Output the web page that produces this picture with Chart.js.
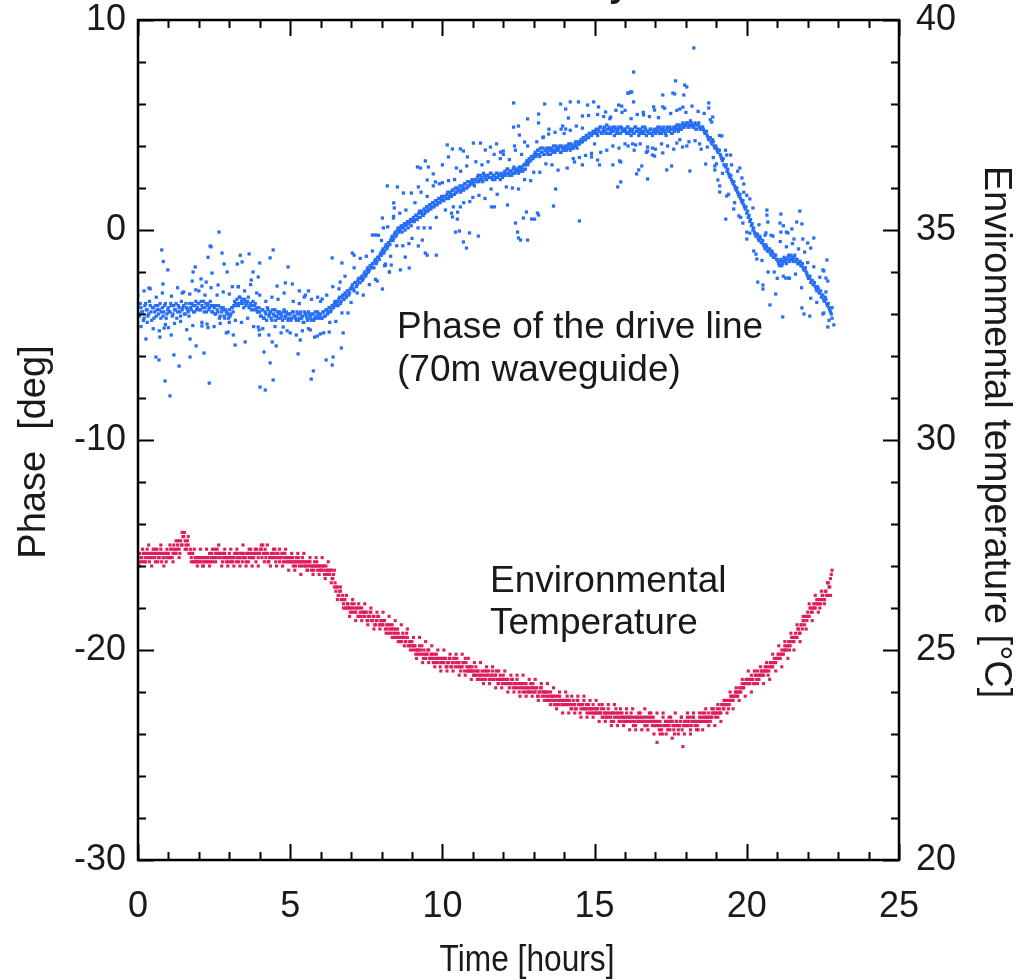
<!DOCTYPE html>
<html>
<head>
<meta charset="utf-8">
<script src="https://cdn.jsdelivr.net/npm/chart.js@4.4.1/dist/chart.umd.min.js"></script>
<style>
  html, body { margin: 0; padding: 0; background: #fff; }
  #wrap { width: 1016px; height: 980px; }
</style>
</head>
<body>
<div id="wrap"><canvas id="chartFase" width="1016" height="980"></canvas></div>
<script>
// tick labels
const horasTicks = [0, 5, 10, 15, 20, 25];
const faseTicks = [-30, -20, -10, 0, 10];
const tempTicks = [20, 25, 30, 35, 40];

// sampling of the recorded series [hours]
const passoHoras = 0.05;      // dense sets
const atrasoSerie2 = 0.025;   // second dense set sits half a step later
const passoDisperso = 0.1;    // loose readings around each band

// phase of the drive line [deg], one value per sample from t = 0
const faseBanda = [
  -3.6,-4.1,-3.7,-3.9,-4.2,-3.5,-3.8,-4.0,-3.6,-4.3,-3.7,-3.9,-4.1,-3.6,-3.8,-4.2,-3.7,-3.9,-3.5,-4.0,
  -3.7,-3.9,-3.6,-4.0,-3.8,-3.5,-3.9,-3.7,-4.1,-3.8,-3.6,-4.0,-3.7,-3.9,-3.5,-3.8,-3.6,-3.9,-3.4,-3.7,
  -3.5,-3.8,-3.6,-3.4,-3.7,-3.9,-3.5,-3.7,-3.6,-3.9,-3.7,-4.0,-3.8,-3.6,-4.1,-3.9,-3.7,-4.2,-3.9,-4.0,
  -3.8,-4.0,-3.7,-3.6,-3.5,-3.3,-3.6,-3.2,-3.4,-3.5,-3.3,-3.6,-3.4,-3.7,-3.5,-3.6,-3.8,-3.5,-3.7,-3.9,
  -3.9,-4.1,-3.8,-4.2,-4.0,-3.7,-4.1,-3.9,-4.3,-4.0,-3.8,-4.1,-4.2,-3.9,-4.0,-4.3,-3.8,-4.1,-4.0,-4.2,
  -4.0,-4.2,-3.9,-4.1,-4.3,-4.0,-4.2,-3.9,-4.1,-4.4,-4.0,-4.2,-3.9,-4.1,-4.3,-4.0,-4.2,-4.1,-3.9,-4.2,
  -4.0,-4.2,-3.9,-4.1,-3.8,-3.9,-3.7,-3.8,-3.6,-3.5,-3.6,-3.4,-3.3,-3.5,-3.2,-3.3,-3.0,-3.2,-2.9,-3.0,
  -2.8,-2.6,-2.9,-2.5,-2.6,-2.3,-2.5,-2.2,-2.3,-2.0,-2.1,-1.8,-1.9,-1.7,-1.6,-1.8,-1.4,-1.5,-1.3,-1.2,
  -1.2,-0.9,-1.0,-0.7,-0.8,-0.6,-0.5,-0.3,-0.4,-0.1,-0.2,0.1,0.0,0.2,0.1,0.3,0.2,0.4,0.3,0.5,
  0.4,0.6,0.5,0.7,0.6,0.9,0.8,0.7,1.0,0.9,1.1,1.0,1.2,1.1,1.3,1.2,1.4,1.3,1.5,1.4,
  1.5,1.4,1.6,1.7,1.5,1.8,1.6,1.9,1.7,1.8,2.0,1.9,1.8,2.1,1.9,2.2,2.0,2.1,2.3,2.2,
  2.3,2.1,2.4,2.5,2.3,2.6,2.4,2.7,2.5,2.4,2.6,2.5,2.7,2.4,2.6,2.5,2.7,2.6,2.4,2.6,
  2.6,2.8,2.7,2.9,2.6,2.8,2.7,3.0,2.8,2.9,2.7,2.9,3.0,2.8,3.1,3.2,3.1,3.4,3.3,3.5,
  3.5,3.7,3.6,3.8,3.5,3.7,3.9,3.6,3.8,3.7,3.9,3.6,3.8,4.0,3.7,3.9,3.8,4.0,3.7,3.9,
  3.8,4.0,3.9,4.1,3.8,4.0,3.9,4.1,4.0,4.2,4.1,4.3,4.2,4.4,4.3,4.5,4.4,4.6,4.5,4.7,
  4.6,4.8,4.5,4.7,4.9,4.6,4.8,4.7,5.0,4.6,4.8,4.7,4.9,4.5,4.8,4.7,4.9,4.6,4.8,4.7,
  4.8,4.6,4.9,4.7,4.5,4.8,4.6,4.9,4.7,4.5,4.8,4.6,4.7,4.9,4.5,4.7,4.6,4.8,4.5,4.7,
  4.6,4.8,4.7,4.9,4.6,4.8,4.7,4.5,4.9,4.7,4.8,4.6,4.9,4.8,5.0,4.7,4.9,4.8,5.1,4.9,
  5.0,5.1,4.9,5.2,5.0,4.9,5.1,4.8,5.0,4.9,4.8,4.9,4.7,4.6,4.5,4.3,4.4,4.1,4.2,3.9,
  3.9,3.7,3.8,3.5,3.3,3.1,3.0,2.8,2.7,2.5,2.4,2.2,2.1,1.9,1.8,1.6,1.5,1.3,1.2,1.0,
  0.8,0.6,0.4,0.2,0.0,-0.1,-0.3,-0.2,-0.5,-0.4,-0.6,-0.7,-0.9,-0.8,-1.0,-0.9,-1.2,-1.1,-1.3,-1.2,
  -1.4,-1.6,-1.5,-1.7,-1.5,-1.4,-1.6,-1.3,-1.5,-1.2,-1.4,-1.3,-1.5,-1.4,-1.6,-1.5,-1.7,-1.8,-1.9,-2.0,
  -2.2,-2.3,-2.5,-2.4,-2.6,-2.7,-2.9,-2.8,-3.0,-3.2,-3.1,-3.4,-3.3,-3.6,-3.7,-3.9,-4.2
];

// phase, second set of samples (t = 0.025 + i * 0.05)
const faseBanda2 = [
  -4.0,-3.5,-3.9,-4.3,-3.6,-3.8,-4.1,-3.4,-3.9,-3.7,-4.2,-3.6,-3.8,-4.0,-3.5,-3.9,-4.1,-3.6,-4.2,-3.8,
  -3.9,-3.5,-4.1,-3.6,-3.8,-4.2,-3.6,-3.9,-3.4,-3.7,-4.0,-3.5,-3.8,-4.1,-3.7,-3.5,-3.9,-3.6,-3.8,-3.5,
  -3.8,-3.4,-3.7,-3.9,-3.5,-3.6,-3.8,-3.4,-3.9,-3.6,-4.0,-3.6,-3.9,-4.2,-3.7,-3.8,-4.1,-3.8,-4.0,-4.2,
  -4.1,-3.7,-3.9,-3.4,-3.6,-3.5,-3.2,-3.5,-3.3,-3.7,-3.4,-3.5,-3.2,-3.6,-3.8,-3.4,-3.6,-3.8,-3.9,-3.7,
  -4.1,-3.8,-4.2,-3.9,-4.3,-3.8,-4.0,-4.2,-3.8,-4.1,-4.3,-3.9,-4.0,-4.2,-4.1,-3.9,-4.2,-3.9,-4.3,-4.0,
  -4.3,-3.9,-4.1,-4.2,-3.9,-4.3,-4.0,-4.2,-4.4,-3.9,-4.1,-4.3,-4.0,-4.2,-4.0,-4.3,-3.9,-4.2,-4.0,-4.1,
  -4.2,-3.9,-4.1,-3.8,-4.0,-3.7,-3.9,-3.6,-3.7,-3.4,-3.5,-3.6,-3.2,-3.4,-3.1,-3.3,-3.1,-2.9,-3.1,-2.8,
  -2.7,-2.8,-2.5,-2.7,-2.4,-2.5,-2.3,-2.4,-2.1,-2.2,-1.9,-2.0,-1.7,-1.8,-1.6,-1.5,-1.6,-1.3,-1.4,-1.1,
  -1.0,-1.1,-0.8,-0.9,-0.6,-0.7,-0.4,-0.5,-0.2,-0.3,0.0,-0.1,0.1,-0.1,0.2,0.0,0.3,0.1,0.4,0.2,
  0.5,0.4,0.7,0.5,0.8,0.6,0.9,0.7,0.8,1.1,0.9,1.2,1.0,1.3,1.1,1.4,1.2,1.5,1.3,1.6,
  1.4,1.6,1.5,1.8,1.6,1.7,1.9,1.7,2.0,1.8,1.9,2.1,1.9,2.0,2.2,2.0,2.3,2.1,2.2,2.4,
  2.2,2.4,2.3,2.6,2.4,2.5,2.3,2.6,2.4,2.6,2.5,2.7,2.5,2.6,2.4,2.7,2.5,2.6,2.7,2.5,
  2.7,2.6,2.9,2.7,2.8,2.6,2.9,2.7,2.9,2.8,3.0,2.8,2.9,3.1,2.9,3.3,3.2,3.3,3.5,3.4,
  3.6,3.5,3.8,3.6,3.9,3.7,3.6,3.8,3.9,3.6,3.8,3.9,3.7,3.8,4.0,3.8,3.9,3.7,4.0,3.8,
  3.9,3.8,4.0,3.9,4.1,3.9,4.0,4.2,3.9,4.1,4.2,4.2,4.4,4.3,4.5,4.4,4.6,4.5,4.6,4.6,
  4.7,4.6,4.8,4.9,4.6,4.7,4.9,4.6,4.8,4.9,4.6,4.8,4.7,4.9,4.6,4.8,4.6,4.9,4.7,4.8,
  4.7,4.9,4.6,4.8,4.7,4.6,4.9,4.7,4.8,4.6,4.7,4.9,4.6,4.8,4.7,4.6,4.8,4.6,4.7,4.8,
  4.7,4.9,4.6,4.8,4.7,4.9,4.6,4.8,4.7,4.9,4.6,4.8,4.7,4.9,4.8,5.0,4.8,5.0,4.9,5.0,
  5.1,4.9,5.0,5.1,4.9,5.0,4.8,5.0,5.1,4.8,4.9,4.8,4.6,4.7,4.4,4.4,4.2,4.3,4.0,4.0,
  3.8,3.8,3.6,3.4,3.4,3.1,3.1,2.9,2.6,2.6,2.3,2.3,2.0,2.0,1.7,1.7,1.4,1.4,1.1,1.1,
  0.9,0.7,0.5,0.3,0.1,-0.2,-0.2,-0.4,-0.3,-0.6,-0.5,-0.8,-0.7,-1.0,-0.9,-1.1,-1.0,-1.3,-1.2,-1.4,
  -1.5,-1.7,-1.4,-1.6,-1.3,-1.5,-1.4,-1.2,-1.4,-1.3,-1.5,-1.2,-1.4,-1.6,-1.5,-1.7,-1.6,-1.9,-1.8,-2.1,
  -2.3,-2.2,-2.4,-2.6,-2.5,-2.8,-2.7,-3.0,-2.9,-3.1,-3.3,-3.2,-3.5,-3.5,-3.8,-4.0
];

// phase, loose readings around the band (t = i * 0.1)
const faseDispersa = [
  -3.1,-4.6,-2.9,-4.4,-2.8,-4.7,-3.2,-4.8,-3.0,-4.5,
  -4.65,-3.15,-4.45,-2.75,-4.35,-2.95,-4.75,-3.05,-4.55,-2.85,
  -2.9,-4.4,-3.1,-4.65,-2.75,-4.6,-3.1,-4.45,-2.95,-4.9,
  -4.4,-2.7,-4.3,-2.7,-4.4,-2.9,-4.2,-2.6,-4.6,-3.0,
  -3.1,-4.7,-3.4,-5.0,-3.2,-4.6,-3.3,-4.9,-3.0,-4.8,
  -4.9,-3.4,-5.0,-3.5,-4.8,-3.1,-4.7,-3.3,-5.1,-3.2,
  -3.4,-4.9,-3.1,-4.4,-2.7,-4.35,-2.8,-3.95,-2.2,-3.95,
  -3.45,-1.8,-3.0,-1.35,-3.1,-1.25,-2.6,-1.0,-2.35,-0.25,
  -0.5,-1.7,0.15,-1.25,0.65,-0.75,0.8,-0.75,0.95,-0.65,
  -0.4,1.3,0.1,1.8,0.1,1.6,0.1,2.1,0.6,2.2,
  2.25,0.95,2.35,0.8,2.4,0.85,2.8,1.3,3.05,1.35,
  1.55,3.25,1.65,3.1,1.5,3.25,1.95,3.6,1.7,3.4,
  3.6,2.05,3.35,2.0,3.8,1.95,3.6,2.4,4.0,2.35,
  2.75,4.2,2.75,4.4,3.15,4.8,3.1,4.65,2.85,4.8,
  4.6,2.95,4.75,3.4,4.95,3.45,4.85,3.55,5.45,3.65,
  4.1,5.5,3.7,5.4,3.8,5.3,4.0,5.7,3.9,5.6,
  5.7,4.0,5.3,3.8,5.5,4.1,5.6,3.7,5.4,3.9,
  3.85,5.35,4.1,5.8,4.0,5.55,3.85,5.7,4.3,5.85,
  5.6,4.2,5.9,4.25,5.65,3.85,5.55,3.95,5.25,3.45,
  3.15,4.5,2.7,3.8,1.7,3.1,1.3,2.8,0.6,1.8,
  1.65,-0.15,1.05,-1.15,0.25,-1.45,-0.25,-2.0,-0.25,-2.0,
  -2.3,-0.55,-2.2,-0.8,-2.3,-0.65,-2.1,-0.9,-2.75,-1.05,
  -1.55,-3.25,-1.75,-3.45,-2.25,-4.0,-2.95,-4.3,-3.7
];

// scattered phase readings away from the main band
const faseForaHoras = [
  2.66,0.78,0.83,0.98,2.37,2.40,2.30,2.76,1.88,1.81,1.78,2.07,2.43,2.83,2.93,0.82,0.36,1.45,2.24,2.10,
  2.63,3.36,3.65,3.26,3.42,4.00,4.44,4.34,3.78,3.95,3.72,3.29,3.00,4.93,4.57,4.84,5.07,5.30,5.60,5.46,
  6.38,6.70,6.64,7.04,7.10,6.05,0.26,0.86,0.72,1.09,0.59,0.69,0.89,1.05,1.18,1.35,1.71,1.71,1.91,2.10,
  2.27,2.17,2.34,2.96,3.13,3.19,3.52,3.95,3.98,3.99,4.14,4.34,4.44,4.01,4.18,4.41,4.54,4.77,5.26,5.33,
  5.66,5.69,5.76,5.89,5.99,6.28,6.18,6.41,6.38,6.68,6.74,7.86,8.03,8.26,8.13,7.70,7.80,
  8.03,8.06,8.19,8.52,8.40,8.42,8.39,9.18,9.28,9.44,9.54,8.72,8.98,9.21,9.50,9.70,9.77,10.16,10.33,10.46,
  10.59,10.69,10.82,10.00,10.20,11.02,11.25,11.41,11.58,11.78,11.91,12.00,12.34,12.37,12.50,12.34,12.53,12.70,12.80,13.16,
  13.16,13.36,13.32,13.49,13.88,14.05,13.95,14.05,14.14,14.20,14.47,14.60,14.77,14.97,15.13,15.36,15.53,15.79,15.89,16.09,
  16.18,16.28,9.44,9.50,9.80,8.78,8.13,8.32,8.26,8.62,8.91,9.21,9.34,10.43,10.56,10.69,10.79,10.89,11.18,10.33,
  10.49,10.36,10.59,11.61,11.71,12.14,12.40,12.47,12.50,12.57,12.80,12.66,12.93,13.03,13.12,13.16,12.76,13.65,13.72,14.50,
  14.34,14.60,15.16,15.10,14.90,15.82,15.60,15.76,15.86,16.38,16.45,
  18.26,16.28,17.66,17.96,18.03,16.12,16.22,17.24,17.57,17.63,17.93,18.75,18.75,17.24,16.94,16.97,17.80,18.88,18.85,16.61,
  16.00,16.35,16.25,16.74,16.74,17.24,16.90,16.97,17.89,18.03,17.70,18.45,15.86,16.55,16.74,17.53,17.37,18.13,18.65,19.18,
  19.34,19.47,18.95,18.95,19.05,19.11,19.11,19.34,19.77,19.84,19.90,20.10,19.57,19.74,19.31,19.87,20.66,20.66,20.69,21.12,
  21.74,21.09,21.48,21.64,21.81,21.35,20.63,20.86,21.55,21.84,20.00,20.00,
  20.23,20.33,21.28,21.38,20.36,20.53,20.53,20.95,20.76,21.18,21.81,21.88,22.07,22.63,22.60,22.66,22.20,22.10,22.00,22.50,
  22.53,21.74,22.53,22.66,22.86,21.12,21.20,21.30
];
const faseForaValores = [
  -0.10,-0.95,-1.50,-1.90,-0.76,-0.80,-1.30,-1.10,-1.76,-2.00,-2.43,-2.33,-2.05,-1.62,-2.00,-2.57,-2.76,-3.00,-2.48,-2.67,
  -2.62,-1.20,-1.14,-1.62,-1.52,-1.57,-0.95,-1.33,-2.00,-2.24,-2.38,-2.70,-3.05,-1.76,-2.67,-2.52,-2.57,-2.90,-2.90,-3.19,
  -1.33,-1.57,-2.48,-1.10,-1.20,-3.29,-5.19,-4.67,-5.10,-5.00,-6.05,-6.19,-7.19,-7.90,-5.95,-6.48,-5.19,-6.05,-5.52,-4.57,
  -4.48,-5.86,-7.29,-4.86,-5.00,-5.48,-5.33,-4.62,-4.76,-5.00,-5.81,-6.33,-7.14,-7.48,-7.62,-5.33,-5.52,-4.62,-5.90,-5.24,
  -4.76,-7.10,-6.71,-5.05,-4.95,-4.86,-6.19,-6.05,-6.43,-5.62,-4.90,-2.43,-2.81,-2.00,-1.67,-0.24,-0.24,
  0.57,0.10,2.10,2.05,1.29,1.05,0.57,3.00,2.95,3.29,3.00,1.76,1.76,2.05,2.38,2.67,2.29,4.05,3.86,2.95,
  3.86,3.76,3.48,3.10,3.48,4.14,4.14,3.81,3.95,4.10,3.71,3.76,6.05,4.00,4.95,4.90,4.52,4.19,5.29,5.52,
  5.10,6.00,4.43,4.57,6.00,5.76,4.95,4.81,5.33,6.10,6.10,5.43,5.95,6.10,5.86,5.62,5.38,5.95,5.90,6.52,
  6.57,6.10,-1.10,-1.20,-1.20,-1.29,-1.62,-1.67,-2.00,-1.90,-1.81,-0.76,-0.48,-0.10,-0.05,-0.57,-0.86,-0.14,-0.29,0.62,
  0.52,1.10,1.10,1.10,1.10,1.19,0.33,-0.10,-0.38,-0.48,-0.48,0.57,0.52,0.52,0.81,0.71,0.86,1.14,1.95,0.43,
  3.24,3.10,3.10,3.33,3.48,3.29,3.10,2.05,2.29,2.67,2.86,
  8.67,7.52,7.10,6.90,6.81,6.52,6.57,6.43,6.52,6.48,6.43,6.05,5.81,5.86,5.86,5.71,5.76,5.38,5.14,5.48,
  4.10,4.05,4.10,3.95,3.76,3.67,3.57,3.52,3.95,4.00,4.14,4.10,3.24,3.05,2.43,3.05,2.86,2.81,3.14,4.48,
  3.57,3.57,3.05,2.86,2.38,2.10,1.81,1.62,2.95,2.48,2.19,1.48,1.00,0.67,0.52,0.33,0.95,0.71,0.38,0.76,
  0.90,0.33,0.05,0.38,0.29,-0.14,-0.14,-0.29,-0.43,-0.43,-0.43,-0.10,
  -1.00,-1.38,-2.29,-2.29,-2.48,-2.62,-2.81,-3.05,-3.57,-4.14,-3.71,-4.00,-4.10,-1.43,-2.29,-2.43,-0.38,-0.86,-0.62,-1.90,
  -1.95,-1.52,-3.95,-4.62,-4.52,-0.10,0.20,-0.10
];

// environmental temperature [degC], one value per sample from t = 0
const tempAmbiente = [
  27.2,27.3,27.2,27.1,27.3,27.2,27.4,27.3,27.2,27.3,27.4,27.2,27.3,27.3,27.2,27.4,27.3,27.2,27.3,27.2,
  27.3,27.2,27.4,27.3,27.4,27.3,27.5,27.4,27.6,27.5,27.7,27.6,27.4,27.5,27.3,27.2,27.3,27.1,27.2,27.1,
  27.2,27.1,27.2,27.1,27.2,27.1,27.2,27.3,27.2,27.1,27.2,27.3,27.4,27.3,27.2,27.3,27.2,27.3,27.1,27.2,
  27.3,27.2,27.1,27.2,27.3,27.2,27.1,27.2,27.3,27.2,27.2,27.1,27.3,27.2,27.4,27.3,27.2,27.3,27.4,27.2,
  27.3,27.4,27.5,27.3,27.2,27.3,27.1,27.2,27.3,27.2,27.4,27.2,27.3,27.1,27.2,27.3,27.2,27.1,27.2,27.1,
  27.2,27.1,27.0,27.1,27.2,27.1,27.0,27.1,27.2,27.1,27.0,27.1,27.0,27.1,26.9,27.0,27.1,27.0,26.9,27.0,
  27.0,26.9,27.0,26.9,26.8,26.9,26.8,26.9,26.7,26.5,26.4,26.5,26.3,26.4,26.2,26.1,26.2,26.0,26.1,26.0,
  26.0,25.9,26.1,25.9,26.0,25.8,25.9,26.0,25.9,25.8,25.9,25.7,25.8,25.9,25.7,25.8,25.6,25.7,25.8,25.6,
  25.7,25.6,25.7,25.5,25.6,25.5,25.4,25.6,25.4,25.5,25.3,25.4,25.3,25.2,25.4,25.3,25.2,25.3,25.1,25.2,
  25.2,25.0,25.1,25.0,24.9,25.1,25.0,24.9,25.0,24.8,24.9,25.0,24.8,24.9,24.7,24.8,24.9,24.7,24.8,24.7,
  24.8,24.7,24.8,24.6,24.7,24.8,24.6,24.7,24.8,24.7,24.6,24.7,24.5,24.6,24.7,24.8,24.6,24.5,24.6,24.5,
  24.5,24.4,24.6,24.5,24.3,24.4,24.5,24.3,24.4,24.5,24.4,24.3,24.4,24.5,24.3,24.4,24.3,24.2,24.4,24.3,
  24.4,24.3,24.2,24.3,24.1,24.2,24.3,24.2,24.1,24.3,24.2,24.1,24.2,24.0,24.1,24.2,24.1,24.0,24.2,24.1,
  24.1,24.0,24.1,23.9,24.0,24.1,24.0,23.9,24.0,23.9,23.8,24.0,23.9,23.8,23.9,23.7,23.8,23.9,23.8,23.7,
  23.8,23.7,23.9,23.8,23.7,23.6,23.8,23.7,23.6,23.8,23.7,23.6,23.7,23.8,23.6,23.5,23.7,23.6,23.5,23.7,
  23.6,23.5,23.6,23.7,23.5,23.4,23.6,23.5,23.4,23.6,23.5,23.3,23.5,23.4,23.6,23.5,23.3,23.4,23.5,23.4,
  23.4,23.5,23.3,23.4,23.5,23.3,23.4,23.2,23.4,23.3,23.5,23.4,23.3,23.2,23.4,23.3,23.5,23.4,23.2,23.3,
  23.3,22.8,23.2,23.3,23.1,23.4,23.2,23.3,23.1,23.2,23.4,23.3,23.1,23.2,23.3,23.1,23.2,23.4,22.7,23.3,
  23.2,23.4,23.3,23.1,23.3,23.4,23.2,23.3,23.1,23.4,23.3,23.5,23.4,23.3,23.4,23.5,23.3,23.4,23.6,23.5,
  23.5,23.4,23.6,23.5,23.7,23.6,23.8,23.7,23.6,23.8,23.9,23.8,23.9,24.0,23.9,24.1,24.0,24.2,24.1,24.2,
  24.2,24.3,24.2,24.4,24.3,24.2,24.4,24.5,24.3,24.4,24.5,24.4,24.6,24.5,24.4,24.6,24.7,24.6,24.8,24.7,
  24.8,24.9,24.8,25.0,24.9,25.1,25.0,25.1,25.0,25.2,25.3,25.2,25.4,25.3,25.5,25.4,25.6,25.7,25.6,25.8,
  25.9,25.8,26.0,25.9,26.1,26.0,26.2,26.1,26.0,26.2,26.3,26.2,26.4,26.3,26.5,26.7,26.9
];

// temperature, second set of samples (t = 0.025 + i * 0.05)
const tempAmbiente2 = [
  27.3,27.1,27.2,27.3,27.1,27.3,27.2,27.1,27.3,27.2,27.3,27.1,27.4,27.2,27.3,27.1,27.2,27.3,27.1,27.3,
  27.2,27.4,27.2,27.5,27.3,27.4,27.6,27.3,27.5,27.7,27.8,27.5,27.6,27.3,27.4,27.3,27.1,27.2,27.1,27.2,
  27.1,27.2,27.0,27.2,27.1,27.2,27.1,27.1,27.3,27.2,27.4,27.2,27.3,27.2,27.3,27.1,27.3,27.2,27.2,27.1,
  27.2,27.1,27.2,27.3,27.1,27.3,27.2,27.3,27.1,27.3,27.2,27.3,27.1,27.3,27.2,27.2,27.3,27.1,27.3,27.3,
  27.4,27.2,27.3,27.4,27.3,27.1,27.2,27.3,27.2,27.3,27.1,27.3,27.2,27.2,27.3,27.1,27.3,27.2,27.1,27.2,
  27.1,27.2,27.1,27.0,27.1,27.2,27.1,27.0,27.1,27.0,27.1,26.9,27.1,27.0,27.0,26.9,27.0,27.1,27.0,26.9,
  26.9,27.0,26.8,27.0,26.9,26.8,26.9,26.7,26.8,26.6,26.5,26.3,26.4,26.2,26.3,26.2,26.0,26.1,26.0,25.9,
  26.1,26.0,25.9,26.0,25.8,26.0,25.8,25.9,25.8,25.9,25.7,25.8,25.9,25.7,25.8,25.6,25.7,25.8,25.6,25.7,
  25.6,25.7,25.5,25.6,25.4,25.6,25.5,25.5,25.3,25.4,25.5,25.3,25.2,25.3,25.3,25.2,25.4,25.1,25.2,25.1,
  25.1,25.1,24.9,25.0,25.0,24.9,25.1,24.8,24.9,24.9,25.0,24.8,24.9,24.8,24.9,24.7,24.8,24.8,24.6,24.8,
  24.7,24.8,24.6,24.7,24.8,24.6,24.7,24.8,24.6,24.8,24.7,24.6,24.6,24.7,24.5,24.7,24.5,24.6,24.5,24.6,
  24.4,24.5,24.4,24.5,24.4,24.3,24.4,24.5,24.3,24.4,24.5,24.3,24.4,24.3,24.4,24.5,24.2,24.3,24.3,24.2,
  24.3,24.2,24.3,24.2,24.2,24.3,24.1,24.2,24.2,24.1,24.0,24.2,24.1,24.2,24.0,24.1,24.0,24.1,24.0,24.2,
  24.0,24.1,23.9,24.0,24.1,23.9,24.0,24.0,23.8,24.0,23.9,23.8,23.9,23.7,23.8,23.9,23.7,23.8,23.7,23.8,
  23.7,23.8,23.7,23.8,23.6,23.7,23.7,23.6,23.8,23.7,23.5,23.7,23.6,23.6,23.7,23.6,23.5,23.6,23.6,23.5,
  23.5,23.6,23.5,23.5,23.6,23.4,23.5,23.4,23.5,23.4,23.4,23.5,23.3,23.5,23.4,23.4,23.5,23.3,23.4,23.3,
  23.3,23.4,23.4,23.3,23.4,23.2,23.3,23.4,23.3,23.4,23.3,23.3,23.4,23.3,23.2,23.4,23.3,23.3,23.4,23.2,
  23.2,23.3,23.1,23.2,23.0,23.2,23.3,23.2,23.3,23.1,23.3,23.2,23.0,23.3,23.2,23.2,23.3,23.1,23.2,23.2,
  23.3,23.2,23.4,23.2,23.4,23.3,23.3,23.2,23.3,23.3,23.4,23.3,23.5,23.4,23.3,23.4,23.4,23.5,23.5,23.4,
  23.6,23.5,23.5,23.7,23.6,23.7,23.7,23.8,23.7,23.9,23.8,23.9,24.0,23.9,24.0,24.0,24.1,24.1,24.2,24.3,
  24.3,24.2,24.3,24.3,24.2,24.4,24.3,24.4,24.4,24.5,24.4,24.5,24.5,24.6,24.5,24.7,24.6,24.7,24.7,24.8,
  24.9,24.8,24.9,24.9,25.0,25.0,25.1,25.2,25.1,25.3,25.2,25.3,25.3,25.5,25.4,25.6,25.5,25.7,25.8,25.7,
  25.8,26.0,25.9,26.0,26.0,26.1,26.1,26.2,26.1,26.3,26.2,26.4,26.3,26.6,26.5,26.8
];

// temperature, loose readings at the band edges (t = 0.05 + i * 0.1)
const tempDispersa = [
  27.0,27.4,27.1,27.5,27.0,27.4,27.1,27.5,27.0,27.4,
  27.5,27.1,27.6,27.2,27.8,27.4,27.7,27.1,27.4,27.0,
  27.4,27.0,27.4,27.0,27.4,27.1,27.5,27.0,27.4,27.0,
  27.4,27.0,27.4,27.0,27.5,27.0,27.4,27.0,27.4,27.0,
  27.5,27.1,27.5,27.0,27.4,27.0,27.4,27.0,27.4,26.9,
  27.3,26.9,27.3,26.8,27.3,26.9,27.2,26.8,27.2,26.8,
  27.2,26.7,27.1,26.6,26.9,26.2,26.5,26.0,26.3,25.8,
  26.2,25.7,26.1,25.7,26.1,25.6,26.0,25.5,25.9,25.5,
  25.9,25.4,25.8,25.3,25.7,25.2,25.6,25.1,25.5,25.0,
  25.3,24.8,25.3,24.7,25.2,24.7,25.1,24.6,25.0,24.5,
  25.0,24.5,24.9,24.5,24.9,24.4,24.9,24.4,24.8,24.3,
  24.7,24.3,24.7,24.2,24.6,24.2,24.6,24.1,24.5,24.1,
  24.5,24.0,24.4,24.0,24.4,23.9,24.4,23.9,24.3,23.9,
  24.3,23.8,24.2,23.8,24.2,23.7,24.1,23.6,24.0,23.5,
  24.0,23.5,23.9,23.5,23.9,23.4,23.9,23.4,23.8,23.4,
  23.8,23.3,23.7,23.3,23.7,23.2,23.7,23.2,23.6,23.2,
  23.6,23.1,23.6,23.1,23.5,23.1,23.6,23.1,23.5,23.0,
  23.5,23.0,23.5,23.0,23.4,22.9,23.5,23.0,23.4,23.0,
  23.5,23.0,23.5,23.1,23.5,23.1,23.6,23.2,23.6,23.2,
  23.7,23.3,23.8,23.5,24.0,23.6,24.1,23.8,24.3,23.9,
  24.5,24.0,24.5,24.2,24.6,24.2,24.7,24.3,24.9,24.5,
  25.1,24.6,25.2,24.8,25.4,25.0,25.6,25.2,25.8,25.5,
  26.1,25.7,26.3,25.9,26.4,26.1,26.6,26.3
];

const corFase = "rgb(38, 110, 245)";
const corTemp = "rgb(222, 30, 90)";
const fonte = "'Liberation Sans', Arial, Helvetica, sans-serif";

function amostras(valores, inicio, passo) {
  return valores.map((v, i) => ({ x: inicio + i * passo, y: v }));
}

const pontosFase = amostras(faseBanda, 0, passoHoras)
  .concat(amostras(faseBanda2, atrasoSerie2, passoHoras))
  .concat(amostras(faseDispersa, 0, passoDisperso))
  .concat(faseForaHoras.map((h, i) => ({ x: h, y: faseForaValores[i] })));
const pontosTemp = amostras(tempAmbiente, 0, passoHoras)
  .concat(amostras(tempAmbiente2, atrasoSerie2, passoHoras))
  .concat(amostras(tempDispersa, 0.05, passoDisperso));

// frame with inward ticks on all four sides, and the texts
const molduraPlugin = {
  id: "moldura",
  afterDraw(chart) {
    const { ctx, chartArea: a, scales } = chart;
    ctx.save();
    ctx.strokeStyle = "#000";
    ctx.lineWidth = 2;
    ctx.beginPath();
    for (let h = 0; h <= 25; h++) {
      const x = Math.round(scales.x.getPixelForValue(h)) + 0.5;
      const len = h % 5 === 0 ? 16 : 8;
      ctx.moveTo(x, a.bottom); ctx.lineTo(x, a.bottom - len);
      ctx.moveTo(x, a.top); ctx.lineTo(x, a.top + len);
    }
    for (let p = -30; p <= 10; p += 2) {
      const y = Math.round(scales.y.getPixelForValue(p)) + 0.5;
      const len = p % 10 === 0 ? 16 : 8;
      ctx.moveTo(a.left, y); ctx.lineTo(a.left + len, y);
    }
    for (let t = 20; t <= 40; t++) {
      const y = Math.round(scales.y2.getPixelForValue(t)) + 0.5;
      const len = t % 5 === 0 ? 16 : 8;
      ctx.moveTo(a.right, y); ctx.lineTo(a.right - len, y);
    }
    ctx.stroke();
    ctx.lineWidth = 2.5;
    ctx.strokeRect(a.left, a.top, a.right - a.left, a.bottom - a.top);

    ctx.fillStyle = "#1a1a1a";
    ctx.textAlign = "left";
    ctx.textBaseline = "alphabetic";
    ctx.font = "37px " + fonte;
    ctx.fillText("Phase of the drive line", 397, 338);
    ctx.fillText("(70m waveguide)", 397, 381);
    ctx.fillText("Environmental", 490, 592);
    ctx.fillText("Temperature", 490, 634);

    // title, almost entirely above the page edge
    ctx.font = "bold 36px " + fonte;
    ctx.textAlign = "right";
    ctx.fillText("Phase Stability", 629, -4);

    ctx.textAlign = "center";
    ctx.textBaseline = "middle";
    ctx.save();
    ctx.translate(527, 961);
    ctx.scale(0.88, 1);
    ctx.font = "36px " + fonte;
    ctx.fillText("Time [hours]", 0, 0);
    ctx.restore();

    ctx.font = "38px " + fonte;
    ctx.save();
    ctx.translate(35, 452);
    ctx.rotate(-Math.PI / 2);
    ctx.fillText("Phase  [deg]", 0, 0);
    ctx.restore();
    ctx.save();
    ctx.translate(995, 432);
    ctx.rotate(Math.PI / 2);
    ctx.fillText("Environmental temperature [°C]", 0, 0);
    ctx.restore();
    ctx.restore();
  },
};

function eixo(extra) {
  return Object.assign(
    {
      type: "linear",
      grid: { display: false, drawTicks: false },
      border: { display: false },
    },
    extra
  );
}

new Chart(document.getElementById("chartFase").getContext("2d"), {
  type: "scatter",
  data: {
    datasets: [
      {
        label: "Phase of the drive line (70m waveguide)",
        data: pontosFase,
        yAxisID: "y",
        backgroundColor: corFase,
        borderWidth: 0,
        pointStyle: "rect",
        pointRadius: 2.3,
      },
      {
        label: "Environmental Temperature",
        data: pontosTemp,
        yAxisID: "y2",
        backgroundColor: corTemp,
        borderWidth: 0,
        pointStyle: "rect",
        pointRadius: 2.2,
      },
    ],
  },
  options: {
    responsive: false,
    animation: false,
    events: [],
    layout: { padding: { top: 20, left: 0, right: 0, bottom: 0 } },
    plugins: { legend: { display: false }, tooltip: { enabled: false } },
    scales: {
      x: eixo({
        position: "bottom",
        min: 0,
        max: 25,
        afterBuildTicks: (s) => { s.ticks = horasTicks.map((v) => ({ value: v })); },
        afterFit: (s) => { s.height = 120; },
        ticks: {
          color: "#1a1a1a",
          padding: 29,
          maxRotation: 0,
          font: { family: fonte, size: 36, lineHeight: 1 },
        },
      }),
      y: eixo({
        position: "left",
        min: -30,
        max: 10,
        afterBuildTicks: (s) => { s.ticks = faseTicks.map((v) => ({ value: v })); },
        afterFit: (s) => { s.width = 138; },
        ticks: {
          color: "#1a1a1a",
          padding: 12,
          font: { family: fonte, size: 36, lineHeight: 0.1 },
        },
      }),
      y2: eixo({
        position: "right",
        min: 20,
        max: 40,
        afterBuildTicks: (s) => { s.ticks = tempTicks.map((v) => ({ value: v })); },
        afterFit: (s) => { s.width = 117; },
        ticks: {
          color: "#1a1a1a",
          padding: 17,
          font: { family: fonte, size: 36, lineHeight: 0.1 },
        },
      }),
    },
  },
  plugins: [molduraPlugin],
});
</script>
</body>
</html>
